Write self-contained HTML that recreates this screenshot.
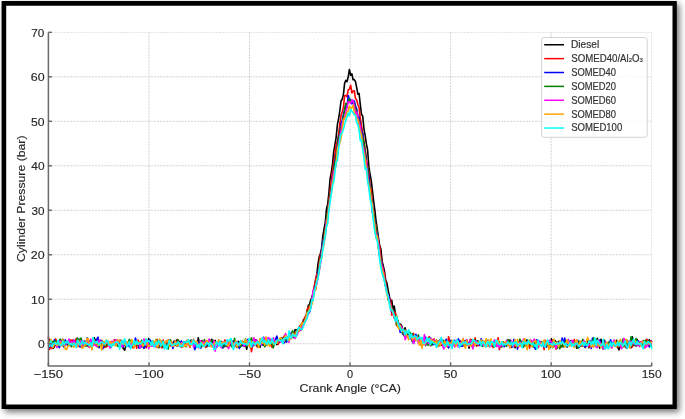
<!DOCTYPE html>
<html><head><meta charset="utf-8"><style>
html,body{margin:0;padding:0;background:#fff;width:685px;height:419px;overflow:hidden}
svg{display:block;font-family:"Liberation Sans",sans-serif}
</style></head><body>
<svg width="685" height="419" viewBox="0 0 685 419">
<defs><filter id="sh" x="-5%" y="-5%" width="110%" height="110%"><feGaussianBlur stdDeviation="3"/></filter><clipPath id="ax"><rect x="48.4" y="32.3" width="603.3" height="333.6"/></clipPath></defs>
<g id="nontext">
<rect x="4.5" y="4" width="675" height="408" fill="#000" opacity="0.55" filter="url(#sh)"/>
<rect x="3" y="3" width="672" height="404" fill="#fff"/>
<path d="M1.6,1.1 H676.8 V408.9 H1.6 Z M6.2,5.8 V404.4 H672.5 V5.8 Z" fill="#000" fill-rule="evenodd"/>
<g clip-path="url(#ax)" stroke="#b0b0b0" stroke-width="1.0" stroke-dasharray="2.1,1.0" opacity="0.55"><line x1="48.40" y1="32.32" x2="48.40" y2="366.00"/><line x1="148.95" y1="32.32" x2="148.95" y2="366.00"/><line x1="249.50" y1="32.32" x2="249.50" y2="366.00"/><line x1="350.05" y1="32.32" x2="350.05" y2="366.00"/><line x1="450.60" y1="32.32" x2="450.60" y2="366.00"/><line x1="551.15" y1="32.32" x2="551.15" y2="366.00"/><line x1="651.70" y1="32.32" x2="651.70" y2="366.00"/><line x1="48.40" y1="343.75" x2="651.70" y2="343.75"/><line x1="48.40" y1="299.26" x2="651.70" y2="299.26"/><line x1="48.40" y1="254.77" x2="651.70" y2="254.77"/><line x1="48.40" y1="210.28" x2="651.70" y2="210.28"/><line x1="48.40" y1="165.79" x2="651.70" y2="165.79"/><line x1="48.40" y1="121.30" x2="651.70" y2="121.30"/><line x1="48.40" y1="76.81" x2="651.70" y2="76.81"/><line x1="48.40" y1="32.32" x2="651.70" y2="32.32"/></g>
<g fill="none" stroke-width="1.6" stroke-linejoin="round" stroke-linecap="butt"><path d="M48.4,344.2 49.6,339.5 50.8,346.9 52.0,342.5 53.2,348.3 54.4,346.6 55.7,343.1 56.9,346.8 58.1,341.5 59.3,343.4 60.5,344.2 61.7,344.1 62.9,339.3 64.1,343.3 65.3,341.3 66.5,344.1 67.7,341.8 69.0,344.8 70.2,340.2 71.4,343.9 72.6,345.5 73.8,341.4 75.0,346.3 76.2,345.7 77.4,343.8 78.6,341.6 79.8,345.5 81.0,341.9 82.3,346.4 83.5,345.1 84.7,344.7 85.9,343.8 87.1,345.6 88.3,345.1 89.5,345.1 90.7,346.2 91.9,344.7 93.1,344.7 94.3,337.7 95.6,341.3 96.8,342.8 98.0,343.8 99.2,346.1 100.4,345.3 101.6,342.4 102.8,345.9 104.0,347.5 105.2,345.4 106.4,342.9 107.6,341.0 108.9,344.0 110.1,346.7 111.3,342.6 112.5,342.4 113.7,343.7 114.9,339.8 116.1,345.1 117.3,344.7 118.5,346.3 119.7,340.5 120.9,340.3 122.2,345.9 123.4,348.6 124.6,350.2 125.8,346.1 127.0,342.8 128.2,343.8 129.4,341.7 130.6,345.8 131.8,341.7 133.0,345.1 134.2,343.7 135.4,343.9 136.7,342.1 137.9,344.5 139.1,342.2 140.3,341.7 141.5,342.3 142.7,344.9 143.9,348.2 145.1,347.0 146.3,343.3 147.5,344.9 148.7,338.6 150.0,343.6 151.2,341.4 152.4,342.3 153.6,346.4 154.8,344.5 156.0,341.2 157.2,343.7 158.4,345.6 159.6,344.6 160.8,344.5 162.0,346.3 163.3,342.4 164.5,342.9 165.7,345.1 166.9,343.7 168.1,342.0 169.3,341.8 170.5,343.8 171.7,344.6 172.9,343.4 174.1,341.1 175.3,344.2 176.6,340.0 177.8,345.8 179.0,341.2 180.2,342.9 181.4,343.6 182.6,342.6 183.8,346.0 185.0,343.4 186.2,344.0 187.4,343.8 188.6,345.0 189.9,342.5 191.1,340.1 192.3,342.5 193.5,344.8 194.7,343.0 195.9,344.4 197.1,346.1 198.3,337.7 199.5,345.0 200.7,343.7 201.9,340.6 203.2,345.1 204.4,343.6 205.6,343.1 206.8,346.7 208.0,343.0 209.2,346.3 210.4,342.9 211.6,339.3 212.8,342.4 214.0,341.3 215.2,340.4 216.5,345.8 217.7,343.8 218.9,342.0 220.1,344.3 221.3,342.8 222.5,347.3 223.7,346.7 224.9,341.5 226.1,346.5 227.3,341.0 228.5,343.8 229.8,343.0 231.0,341.0 232.2,342.9 233.4,346.4 234.6,344.5 235.8,342.9 237.0,347.5 238.2,341.4 239.4,341.9 240.6,344.0 241.8,344.7 243.1,343.7 244.3,344.3 245.5,344.0 246.7,349.3 247.9,341.5 249.1,343.2 250.3,347.1 251.5,342.5 252.7,342.8 253.9,342.4 255.1,339.9 256.4,339.8 257.6,344.2 258.8,346.0 260.0,347.2 261.2,343.1 262.4,341.4 263.6,345.3 264.8,342.5 266.0,345.4 267.2,343.6 268.4,343.4 269.7,344.6 270.9,343.7 272.1,346.4 273.3,341.7 274.5,341.6 275.7,342.0 276.9,344.6 278.1,343.5 279.3,342.1 280.5,339.7 281.7,338.9 282.9,343.2 284.2,340.2 285.4,335.0 286.6,337.0 287.8,338.2 289.0,340.3 290.2,338.0 291.4,338.3 292.6,333.6 293.8,337.3 295.0,329.7 296.2,329.8 297.5,330.6 298.7,330.1 299.9,327.7 301.1,326.6 302.3,324.7 303.5,319.8 304.7,319.3 305.9,315.9 307.1,314.8 308.3,305.4 309.5,304.6 310.8,299.8 312.0,297.7 313.2,291.8 314.4,287.3 315.6,279.2 316.8,275.2 318.0,263.8 319.2,256.9 320.4,253.9 321.6,248.2 322.8,236.2 324.1,228.7 325.3,222.3 326.5,208.9 327.7,204.1 328.9,193.0 330.1,178.8 331.3,172.6 332.5,164.1 333.7,151.8 334.9,145.0 336.1,137.6 337.4,124.6 338.6,118.6 339.8,111.0 341.0,101.0 342.2,99.2 343.4,94.6 344.6,83.4 345.8,80.4 347.0,81.7 348.2,76.9 349.4,69.5 350.7,75.3 351.9,73.8 353.1,79.8 354.3,79.6 355.5,81.6 356.7,87.7 357.9,94.3 359.1,93.5 360.3,104.6 361.5,114.3 362.7,116.1 364.0,129.3 365.2,135.7 366.4,143.8 367.6,149.8 368.8,166.1 370.0,174.0 371.2,180.3 372.4,190.3 373.6,201.0 374.8,209.6 376.0,220.5 377.3,229.3 378.5,238.2 379.7,245.9 380.9,249.1 382.1,261.1 383.3,265.9 384.5,271.4 385.7,280.3 386.9,282.9 388.1,289.8 389.3,295.8 390.6,304.1 391.8,300.3 393.0,309.9 394.2,306.1 395.4,313.8 396.6,316.1 397.8,321.1 399.0,324.2 400.2,324.1 401.4,325.2 402.6,328.6 403.9,331.8 405.1,327.7 406.3,332.0 407.5,334.0 408.7,336.2 409.9,334.3 411.1,335.8 412.3,341.5 413.5,335.1 414.7,338.5 415.9,338.9 417.2,339.6 418.4,339.4 419.6,339.2 420.8,342.1 422.0,339.8 423.2,340.2 424.4,341.2 425.6,341.2 426.8,343.1 428.0,341.4 429.2,342.3 430.4,344.1 431.7,340.4 432.9,343.3 434.1,341.7 435.3,343.7 436.5,344.0 437.7,342.0 438.9,345.9 440.1,339.7 441.3,345.1 442.5,345.4 443.7,343.8 445.0,343.1 446.2,342.7 447.4,343.9 448.6,347.6 449.8,342.9 451.0,345.4 452.2,343.9 453.4,342.9 454.6,342.8 455.8,342.0 457.0,342.2 458.3,344.6 459.5,346.5 460.7,343.3 461.9,344.0 463.1,341.3 464.3,341.3 465.5,340.8 466.7,344.6 467.9,342.4 469.1,348.1 470.3,340.4 471.6,341.8 472.8,345.9 474.0,344.1 475.2,342.6 476.4,344.6 477.6,345.5 478.8,341.5 480.0,344.2 481.2,341.5 482.4,345.5 483.6,345.4 484.9,345.3 486.1,344.8 487.3,342.0 488.5,345.3 489.7,344.4 490.9,344.5 492.1,342.2 493.3,344.9 494.5,342.3 495.7,341.7 496.9,340.9 498.2,341.1 499.4,343.4 500.6,346.4 501.8,343.1 503.0,344.2 504.2,342.8 505.4,344.2 506.6,341.3 507.8,340.0 509.0,340.5 510.2,340.1 511.5,347.1 512.7,343.2 513.9,342.6 515.1,347.8 516.3,343.9 517.5,341.5 518.7,345.0 519.9,343.6 521.1,345.8 522.3,344.9 523.5,341.0 524.8,344.3 526.0,340.2 527.2,340.0 528.4,343.0 529.6,342.4 530.8,340.7 532.0,342.1 533.2,341.9 534.4,345.2 535.6,346.0 536.8,345.4 538.1,346.5 539.3,344.3 540.5,344.4 541.7,342.1 542.9,344.7 544.1,341.8 545.3,343.4 546.5,345.2 547.7,344.0 548.9,346.5 550.1,347.5 551.4,338.7 552.6,343.3 553.8,344.0 555.0,340.4 556.2,342.7 557.4,342.8 558.6,341.4 559.8,344.5 561.0,342.6 562.2,345.3 563.4,346.7 564.7,343.6 565.9,340.6 567.1,347.1 568.3,344.4 569.5,345.2 570.7,340.7 571.9,343.9 573.1,344.3 574.3,342.8 575.5,343.4 576.7,348.1 577.9,344.3 579.2,342.4 580.4,343.1 581.6,342.1 582.8,346.2 584.0,342.5 585.2,347.5 586.4,345.8 587.6,340.5 588.8,347.8 590.0,342.5 591.2,345.4 592.5,342.3 593.7,343.4 594.9,340.9 596.1,346.6 597.3,338.3 598.5,342.6 599.7,348.2 600.9,339.2 602.1,341.8 603.3,349.0 604.5,340.3 605.8,345.2 607.0,342.5 608.2,344.5 609.4,342.5 610.6,343.3 611.8,346.8 613.0,342.7 614.2,341.6 615.4,346.2 616.6,340.3 617.8,347.6 619.1,349.9 620.3,344.9 621.5,342.6 622.7,343.3 623.9,341.9 625.1,342.4 626.3,348.0 627.5,346.5 628.7,344.6 629.9,347.4 631.1,347.6 632.4,336.8 633.6,345.4 634.8,343.4 636.0,346.0 637.2,339.6 638.4,345.4 639.6,343.6 640.8,342.8 642.0,344.6 643.2,343.0 644.4,347.0 645.7,342.1 646.9,343.9 648.1,342.4 649.3,339.7 650.5,345.0 651.7,341.0" stroke="#000000" /><path d="M48.4,336.5 49.6,349.5 50.8,345.0 52.0,348.6 53.2,344.6 54.4,341.6 55.7,338.9 56.9,342.7 58.1,344.8 59.3,340.8 60.5,341.6 61.7,342.0 62.9,342.2 64.1,342.8 65.3,344.8 66.5,343.7 67.7,343.7 69.0,344.2 70.2,340.3 71.4,340.4 72.6,340.0 73.8,344.9 75.0,342.8 76.2,338.5 77.4,346.7 78.6,345.7 79.8,345.3 81.0,344.0 82.3,340.2 83.5,341.7 84.7,343.1 85.9,341.8 87.1,344.5 88.3,346.6 89.5,344.7 90.7,342.0 91.9,343.4 93.1,343.6 94.3,342.4 95.6,342.7 96.8,344.8 98.0,346.5 99.2,344.4 100.4,341.6 101.6,340.3 102.8,348.1 104.0,347.2 105.2,346.7 106.4,346.9 107.6,345.6 108.9,342.5 110.1,343.1 111.3,345.9 112.5,342.8 113.7,340.5 114.9,340.0 116.1,341.6 117.3,340.1 118.5,345.6 119.7,342.2 120.9,342.2 122.2,342.5 123.4,342.2 124.6,343.1 125.8,341.8 127.0,346.1 128.2,345.0 129.4,341.4 130.6,342.3 131.8,343.1 133.0,347.9 134.2,345.3 135.4,342.5 136.7,348.2 137.9,340.1 139.1,342.9 140.3,342.0 141.5,342.7 142.7,342.1 143.9,344.9 145.1,339.6 146.3,347.6 147.5,342.8 148.7,343.5 150.0,345.9 151.2,342.5 152.4,342.8 153.6,341.7 154.8,344.0 156.0,343.3 157.2,339.4 158.4,344.8 159.6,347.5 160.8,344.3 162.0,347.9 163.3,339.8 164.5,348.1 165.7,345.0 166.9,344.5 168.1,340.0 169.3,340.1 170.5,346.0 171.7,342.2 172.9,345.5 174.1,344.1 175.3,343.5 176.6,342.7 177.8,339.4 179.0,342.7 180.2,342.8 181.4,347.4 182.6,344.1 183.8,345.1 185.0,341.8 186.2,341.6 187.4,342.9 188.6,343.9 189.9,347.2 191.1,343.5 192.3,344.1 193.5,339.4 194.7,342.7 195.9,344.3 197.1,346.8 198.3,343.2 199.5,343.2 200.7,344.2 201.9,346.7 203.2,342.7 204.4,345.1 205.6,347.5 206.8,343.1 208.0,341.7 209.2,343.1 210.4,340.9 211.6,343.5 212.8,345.7 214.0,345.5 215.2,344.0 216.5,346.5 217.7,344.7 218.9,342.7 220.1,343.5 221.3,343.6 222.5,344.6 223.7,343.2 224.9,339.9 226.1,344.3 227.3,345.8 228.5,348.1 229.8,341.3 231.0,345.9 232.2,341.8 233.4,342.7 234.6,347.0 235.8,343.4 237.0,342.8 238.2,343.6 239.4,346.4 240.6,341.6 241.8,340.9 243.1,343.7 244.3,346.4 245.5,343.8 246.7,344.0 247.9,343.1 249.1,345.6 250.3,343.3 251.5,351.7 252.7,344.7 253.9,345.2 255.1,341.5 256.4,346.0 257.6,346.8 258.8,343.2 260.0,341.6 261.2,342.9 262.4,340.8 263.6,341.4 264.8,345.0 266.0,343.7 267.2,343.3 268.4,341.8 269.7,339.7 270.9,344.8 272.1,347.4 273.3,342.1 274.5,343.2 275.7,340.7 276.9,338.7 278.1,344.4 279.3,340.5 280.5,340.6 281.7,338.1 282.9,339.2 284.2,335.9 285.4,341.6 286.6,340.0 287.8,338.6 289.0,340.1 290.2,337.5 291.4,337.8 292.6,336.4 293.8,336.2 295.0,332.5 296.2,335.2 297.5,332.9 298.7,327.6 299.9,325.8 301.1,330.0 302.3,322.6 303.5,323.4 304.7,317.0 305.9,319.2 307.1,309.4 308.3,307.5 309.5,306.2 310.8,305.0 312.0,297.6 313.2,297.6 314.4,285.6 315.6,280.7 316.8,273.8 318.0,274.7 319.2,264.0 320.4,254.7 321.6,250.8 322.8,242.8 324.1,235.4 325.3,229.2 326.5,219.3 327.7,212.7 328.9,199.5 330.1,191.4 331.3,180.9 332.5,171.2 333.7,162.3 334.9,154.2 336.1,144.1 337.4,141.4 338.6,133.8 339.8,124.1 341.0,115.3 342.2,111.9 343.4,107.5 344.6,95.8 345.8,95.4 347.0,96.7 348.2,90.0 349.4,89.2 350.7,85.3 351.9,93.0 353.1,91.0 354.3,90.9 355.5,98.4 356.7,100.0 357.9,104.5 359.1,107.5 360.3,118.5 361.5,126.0 362.7,133.1 364.0,141.1 365.2,149.2 366.4,159.2 367.6,166.3 368.8,171.9 370.0,186.1 371.2,190.1 372.4,205.0 373.6,211.5 374.8,221.1 376.0,225.7 377.3,234.7 378.5,242.6 379.7,246.9 380.9,257.9 382.1,263.4 383.3,270.1 384.5,275.0 385.7,282.7 386.9,291.6 388.1,295.6 389.3,298.2 390.6,299.4 391.8,315.2 393.0,309.9 394.2,313.5 395.4,312.9 396.6,325.6 397.8,323.8 399.0,324.7 400.2,325.8 401.4,327.4 402.6,331.0 403.9,333.3 405.1,333.1 406.3,334.3 407.5,335.4 408.7,332.2 409.9,335.9 411.1,337.4 412.3,338.2 413.5,333.4 414.7,341.3 415.9,337.9 417.2,339.2 418.4,337.2 419.6,337.7 420.8,339.5 422.0,342.3 423.2,339.6 424.4,339.6 425.6,342.0 426.8,342.7 428.0,339.8 429.2,336.6 430.4,345.8 431.7,339.3 432.9,341.0 434.1,338.9 435.3,343.6 436.5,343.9 437.7,343.8 438.9,340.6 440.1,345.4 441.3,343.3 442.5,345.5 443.7,343.3 445.0,343.4 446.2,342.3 447.4,346.9 448.6,336.7 449.8,341.3 451.0,340.6 452.2,342.4 453.4,341.6 454.6,344.2 455.8,342.7 457.0,343.5 458.3,340.9 459.5,344.1 460.7,340.9 461.9,346.2 463.1,344.6 464.3,344.4 465.5,342.0 466.7,341.4 467.9,344.0 469.1,346.0 470.3,339.3 471.6,339.8 472.8,345.2 474.0,343.8 475.2,337.8 476.4,346.1 477.6,341.9 478.8,345.4 480.0,342.2 481.2,342.6 482.4,343.4 483.6,343.4 484.9,342.5 486.1,344.2 487.3,345.9 488.5,345.2 489.7,346.9 490.9,344.6 492.1,345.9 493.3,347.5 494.5,342.7 495.7,344.1 496.9,342.8 498.2,337.8 499.4,349.6 500.6,345.0 501.8,344.8 503.0,344.8 504.2,345.1 505.4,343.4 506.6,342.9 507.8,342.3 509.0,344.7 510.2,341.1 511.5,341.6 512.7,344.5 513.9,343.6 515.1,346.4 516.3,342.7 517.5,343.7 518.7,341.6 519.9,343.5 521.1,345.3 522.3,345.5 523.5,343.8 524.8,345.7 526.0,342.2 527.2,342.0 528.4,343.4 529.6,348.1 530.8,342.2 532.0,343.6 533.2,344.6 534.4,344.3 535.6,341.1 536.8,345.7 538.1,347.7 539.3,344.4 540.5,342.9 541.7,342.1 542.9,343.0 544.1,349.7 545.3,340.4 546.5,346.6 547.7,342.6 548.9,345.1 550.1,342.0 551.4,344.7 552.6,340.4 553.8,345.5 555.0,346.1 556.2,349.2 557.4,343.0 558.6,344.3 559.8,341.8 561.0,347.3 562.2,344.3 563.4,345.3 564.7,345.8 565.9,340.4 567.1,343.4 568.3,341.6 569.5,343.7 570.7,342.8 571.9,345.5 573.1,342.3 574.3,339.6 575.5,344.1 576.7,346.0 577.9,342.1 579.2,345.0 580.4,344.4 581.6,346.0 582.8,343.6 584.0,342.1 585.2,341.9 586.4,344.9 587.6,343.0 588.8,347.1 590.0,345.0 591.2,346.0 592.5,345.4 593.7,343.6 594.9,340.8 596.1,344.4 597.3,341.1 598.5,341.2 599.7,345.9 600.9,344.8 602.1,346.9 603.3,345.3 604.5,344.8 605.8,344.3 607.0,346.6 608.2,344.4 609.4,344.7 610.6,343.1 611.8,347.9 613.0,345.0 614.2,342.0 615.4,341.8 616.6,344.6 617.8,346.5 619.1,346.6 620.3,342.0 621.5,346.6 622.7,346.7 623.9,346.8 625.1,339.9 626.3,346.1 627.5,341.4 628.7,346.5 629.9,344.2 631.1,342.2 632.4,347.0 633.6,343.9 634.8,345.3 636.0,342.5 637.2,342.2 638.4,344.1 639.6,344.2 640.8,341.8 642.0,343.9 643.2,344.5 644.4,347.8 645.7,341.0 646.9,339.2 648.1,345.7 649.3,341.3 650.5,341.1 651.7,340.6" stroke="#ff0000" /><path d="M48.4,347.8 49.6,346.6 50.8,344.5 52.0,345.0 53.2,346.2 54.4,339.8 55.7,342.7 56.9,343.9 58.1,343.8 59.3,347.8 60.5,344.0 61.7,345.0 62.9,344.6 64.1,347.3 65.3,339.8 66.5,342.7 67.7,346.0 69.0,342.5 70.2,342.0 71.4,345.7 72.6,344.5 73.8,340.0 75.0,342.8 76.2,344.6 77.4,343.2 78.6,339.2 79.8,346.8 81.0,346.9 82.3,346.2 83.5,343.3 84.7,341.3 85.9,343.8 87.1,337.9 88.3,346.2 89.5,340.9 90.7,341.0 91.9,340.6 93.1,342.3 94.3,342.5 95.6,342.5 96.8,339.2 98.0,337.1 99.2,347.8 100.4,340.4 101.6,344.9 102.8,348.7 104.0,345.0 105.2,342.7 106.4,343.6 107.6,341.8 108.9,344.1 110.1,343.4 111.3,344.0 112.5,341.7 113.7,344.2 114.9,342.4 116.1,341.6 117.3,341.8 118.5,343.3 119.7,343.8 120.9,343.5 122.2,346.3 123.4,346.2 124.6,345.1 125.8,343.7 127.0,346.1 128.2,344.6 129.4,346.8 130.6,345.4 131.8,346.1 133.0,345.0 134.2,344.3 135.4,338.1 136.7,342.3 137.9,343.5 139.1,348.3 140.3,344.4 141.5,346.8 142.7,345.8 143.9,348.0 145.1,346.7 146.3,340.8 147.5,340.3 148.7,345.3 150.0,339.8 151.2,343.4 152.4,343.1 153.6,343.9 154.8,342.6 156.0,342.2 157.2,345.1 158.4,346.3 159.6,345.1 160.8,341.2 162.0,342.1 163.3,343.3 164.5,342.6 165.7,345.1 166.9,347.4 168.1,344.5 169.3,341.5 170.5,344.6 171.7,342.5 172.9,348.5 174.1,342.5 175.3,341.3 176.6,345.1 177.8,345.7 179.0,342.5 180.2,343.1 181.4,340.9 182.6,346.1 183.8,343.0 185.0,345.8 186.2,344.8 187.4,340.4 188.6,340.6 189.9,345.5 191.1,340.5 192.3,341.8 193.5,344.2 194.7,349.7 195.9,347.2 197.1,341.5 198.3,342.1 199.5,343.8 200.7,348.1 201.9,343.0 203.2,343.2 204.4,342.9 205.6,344.5 206.8,345.1 208.0,343.0 209.2,343.4 210.4,343.3 211.6,344.6 212.8,346.8 214.0,342.5 215.2,344.8 216.5,347.4 217.7,343.4 218.9,342.2 220.1,345.6 221.3,342.4 222.5,348.0 223.7,347.1 224.9,343.7 226.1,341.4 227.3,341.3 228.5,340.9 229.8,343.5 231.0,344.6 232.2,342.6 233.4,340.6 234.6,342.7 235.8,344.8 237.0,344.4 238.2,344.7 239.4,348.5 240.6,346.1 241.8,345.6 243.1,345.7 244.3,342.4 245.5,345.8 246.7,345.8 247.9,339.3 249.1,343.3 250.3,343.6 251.5,339.8 252.7,346.3 253.9,340.8 255.1,344.5 256.4,340.3 257.6,344.2 258.8,344.0 260.0,343.2 261.2,342.1 262.4,345.0 263.6,337.2 264.8,341.0 266.0,340.4 267.2,340.3 268.4,343.5 269.7,340.1 270.9,339.4 272.1,339.7 273.3,341.7 274.5,343.4 275.7,338.8 276.9,336.2 278.1,341.9 279.3,340.1 280.5,340.0 281.7,337.6 282.9,340.7 284.2,342.8 285.4,338.2 286.6,342.3 287.8,338.5 289.0,338.6 290.2,336.6 291.4,332.2 292.6,336.8 293.8,337.7 295.0,337.3 296.2,336.5 297.5,329.4 298.7,329.6 299.9,330.6 301.1,324.4 302.3,325.5 303.5,325.4 304.7,322.3 305.9,316.5 307.1,314.4 308.3,313.9 309.5,312.2 310.8,307.4 312.0,298.0 313.2,294.2 314.4,291.0 315.6,285.2 316.8,279.9 318.0,272.3 319.2,268.5 320.4,261.8 321.6,249.8 322.8,242.2 324.1,238.0 325.3,230.3 326.5,221.0 327.7,213.3 328.9,204.6 330.1,196.7 331.3,190.3 332.5,178.2 333.7,170.5 334.9,160.5 336.1,155.6 337.4,145.9 338.6,136.7 339.8,133.7 341.0,123.3 342.2,120.7 343.4,114.4 344.6,109.8 345.8,104.7 347.0,107.4 348.2,95.5 349.4,99.3 350.7,99.5 351.9,103.9 353.1,100.6 354.3,101.0 355.5,105.8 356.7,108.8 357.9,116.4 359.1,117.3 360.3,126.5 361.5,131.1 362.7,133.3 364.0,148.3 365.2,152.2 366.4,162.2 367.6,169.0 368.8,176.0 370.0,189.9 371.2,198.2 372.4,202.4 373.6,214.7 374.8,219.5 376.0,231.2 377.3,233.8 378.5,245.1 379.7,256.7 380.9,260.0 382.1,264.8 383.3,274.4 384.5,278.0 385.7,286.0 386.9,289.2 388.1,296.0 389.3,297.4 390.6,308.5 391.8,312.3 393.0,312.9 394.2,315.0 395.4,316.4 396.6,321.6 397.8,323.2 399.0,324.0 400.2,332.4 401.4,326.3 402.6,334.1 403.9,333.6 405.1,333.5 406.3,333.8 407.5,336.5 408.7,334.6 409.9,338.7 411.1,338.5 412.3,338.6 413.5,343.3 414.7,338.1 415.9,334.3 417.2,340.2 418.4,341.8 419.6,337.5 420.8,340.8 422.0,344.1 423.2,341.3 424.4,340.4 425.6,337.0 426.8,340.8 428.0,342.5 429.2,342.6 430.4,337.8 431.7,341.2 432.9,344.8 434.1,343.2 435.3,344.8 436.5,342.6 437.7,342.7 438.9,341.8 440.1,342.1 441.3,342.0 442.5,344.2 443.7,341.0 445.0,342.3 446.2,339.2 447.4,343.1 448.6,347.8 449.8,342.6 451.0,340.4 452.2,342.5 453.4,344.8 454.6,340.3 455.8,345.7 457.0,341.4 458.3,338.9 459.5,340.6 460.7,345.5 461.9,346.3 463.1,345.9 464.3,341.8 465.5,343.9 466.7,339.5 467.9,344.7 469.1,342.2 470.3,342.9 471.6,344.0 472.8,341.1 474.0,340.6 475.2,344.3 476.4,345.0 477.6,341.3 478.8,341.5 480.0,345.4 481.2,338.7 482.4,342.3 483.6,344.7 484.9,341.8 486.1,346.5 487.3,340.3 488.5,341.9 489.7,342.7 490.9,342.4 492.1,343.7 493.3,343.6 494.5,343.2 495.7,342.8 496.9,341.3 498.2,341.3 499.4,344.7 500.6,344.0 501.8,346.0 503.0,341.9 504.2,346.7 505.4,343.2 506.6,344.2 507.8,343.3 509.0,343.7 510.2,340.7 511.5,343.6 512.7,347.1 513.9,339.4 515.1,343.9 516.3,342.3 517.5,349.2 518.7,341.7 519.9,345.1 521.1,341.1 522.3,345.8 523.5,344.1 524.8,344.2 526.0,344.8 527.2,342.1 528.4,343.3 529.6,344.0 530.8,344.0 532.0,343.6 533.2,343.4 534.4,347.3 535.6,349.2 536.8,339.7 538.1,342.2 539.3,343.9 540.5,342.3 541.7,341.9 542.9,342.9 544.1,346.9 545.3,342.1 546.5,347.0 547.7,345.4 548.9,343.0 550.1,343.1 551.4,341.2 552.6,346.5 553.8,344.9 555.0,345.1 556.2,342.2 557.4,344.4 558.6,342.4 559.8,342.4 561.0,343.2 562.2,338.0 563.4,344.6 564.7,338.0 565.9,346.0 567.1,344.6 568.3,339.6 569.5,344.9 570.7,344.1 571.9,341.0 573.1,342.0 574.3,344.7 575.5,342.2 576.7,344.2 577.9,340.3 579.2,347.5 580.4,341.5 581.6,345.1 582.8,344.6 584.0,344.3 585.2,347.0 586.4,345.5 587.6,344.6 588.8,345.2 590.0,340.5 591.2,348.4 592.5,338.1 593.7,340.4 594.9,341.2 596.1,342.7 597.3,345.7 598.5,345.4 599.7,340.1 600.9,347.0 602.1,343.9 603.3,343.3 604.5,346.6 605.8,344.7 607.0,345.4 608.2,343.3 609.4,342.7 610.6,339.8 611.8,345.0 613.0,343.9 614.2,343.2 615.4,343.2 616.6,345.0 617.8,345.4 619.1,342.3 620.3,344.4 621.5,345.7 622.7,346.7 623.9,345.5 625.1,344.8 626.3,345.6 627.5,340.5 628.7,343.3 629.9,341.7 631.1,343.9 632.4,340.6 633.6,340.7 634.8,342.8 636.0,345.2 637.2,343.2 638.4,341.0 639.6,343.1 640.8,344.9 642.0,343.8 643.2,342.3 644.4,343.9 645.7,343.5 646.9,342.7 648.1,341.6 649.3,346.9 650.5,342.9 651.7,340.7" stroke="#0000ff" /><path d="M48.4,343.3 49.6,345.0 50.8,344.2 52.0,344.2 53.2,341.0 54.4,343.3 55.7,340.9 56.9,345.0 58.1,341.9 59.3,340.2 60.5,339.2 61.7,341.6 62.9,342.3 64.1,342.6 65.3,341.4 66.5,343.9 67.7,343.8 69.0,345.5 70.2,343.1 71.4,346.7 72.6,345.0 73.8,341.1 75.0,343.9 76.2,344.6 77.4,337.9 78.6,342.6 79.8,339.3 81.0,338.0 82.3,345.3 83.5,343.8 84.7,341.1 85.9,346.2 87.1,343.0 88.3,341.5 89.5,347.1 90.7,341.6 91.9,345.6 93.1,343.8 94.3,340.5 95.6,344.4 96.8,342.4 98.0,347.1 99.2,341.1 100.4,346.0 101.6,342.0 102.8,341.3 104.0,344.7 105.2,346.0 106.4,345.1 107.6,342.0 108.9,345.7 110.1,341.9 111.3,347.4 112.5,343.2 113.7,342.6 114.9,344.7 116.1,341.8 117.3,346.0 118.5,344.1 119.7,346.9 120.9,344.5 122.2,343.1 123.4,344.7 124.6,341.3 125.8,344.8 127.0,345.6 128.2,342.4 129.4,339.4 130.6,341.2 131.8,345.7 133.0,343.7 134.2,342.1 135.4,344.3 136.7,344.6 137.9,344.1 139.1,346.5 140.3,343.9 141.5,340.3 142.7,342.4 143.9,345.9 145.1,340.9 146.3,342.5 147.5,344.5 148.7,347.2 150.0,342.9 151.2,342.5 152.4,343.8 153.6,344.7 154.8,344.9 156.0,339.6 157.2,342.6 158.4,347.6 159.6,341.1 160.8,343.9 162.0,341.3 163.3,347.3 164.5,343.2 165.7,342.7 166.9,345.7 168.1,349.0 169.3,341.7 170.5,339.8 171.7,344.4 172.9,344.8 174.1,343.3 175.3,345.0 176.6,345.9 177.8,339.7 179.0,344.0 180.2,344.8 181.4,345.5 182.6,345.2 183.8,341.6 185.0,342.2 186.2,346.8 187.4,341.8 188.6,340.3 189.9,345.8 191.1,340.5 192.3,341.7 193.5,344.4 194.7,345.0 195.9,342.2 197.1,343.3 198.3,345.9 199.5,344.8 200.7,346.9 201.9,345.9 203.2,344.4 204.4,339.6 205.6,342.1 206.8,345.0 208.0,342.6 209.2,339.7 210.4,345.4 211.6,340.9 212.8,339.8 214.0,343.2 215.2,346.9 216.5,345.2 217.7,343.2 218.9,343.4 220.1,341.8 221.3,341.3 222.5,347.1 223.7,346.0 224.9,344.6 226.1,343.7 227.3,342.1 228.5,343.6 229.8,342.8 231.0,344.3 232.2,347.1 233.4,345.5 234.6,338.4 235.8,343.6 237.0,343.0 238.2,347.0 239.4,342.7 240.6,346.7 241.8,344.0 243.1,341.6 244.3,344.3 245.5,339.0 246.7,346.4 247.9,344.9 249.1,342.7 250.3,342.3 251.5,337.7 252.7,344.8 253.9,338.8 255.1,342.6 256.4,341.0 257.6,346.5 258.8,341.7 260.0,345.2 261.2,341.2 262.4,343.0 263.6,344.1 264.8,346.8 266.0,338.7 267.2,343.5 268.4,341.3 269.7,339.4 270.9,344.4 272.1,340.8 273.3,347.8 274.5,342.7 275.7,341.4 276.9,341.0 278.1,340.7 279.3,339.6 280.5,340.6 281.7,338.0 282.9,340.3 284.2,339.2 285.4,340.8 286.6,338.2 287.8,337.5 289.0,338.3 290.2,335.8 291.4,335.1 292.6,330.8 293.8,334.7 295.0,334.9 296.2,332.4 297.5,329.6 298.7,331.1 299.9,329.1 301.1,324.9 302.3,327.2 303.5,324.4 304.7,320.1 305.9,317.8 307.1,311.3 308.3,312.6 309.5,309.3 310.8,303.4 312.0,299.2 313.2,293.7 314.4,291.3 315.6,288.7 316.8,282.2 318.0,274.9 319.2,269.9 320.4,260.6 321.6,253.2 322.8,244.5 324.1,238.1 325.3,231.3 326.5,220.2 327.7,212.4 328.9,202.7 330.1,195.5 331.3,188.6 332.5,177.8 333.7,170.4 334.9,163.2 336.1,157.1 337.4,147.2 338.6,136.6 339.8,134.1 341.0,125.2 342.2,126.3 343.4,116.3 344.6,111.1 345.8,103.3 347.0,104.7 348.2,102.1 349.4,98.6 350.7,102.1 351.9,100.5 353.1,101.7 354.3,103.1 355.5,108.3 356.7,111.8 357.9,116.8 359.1,120.8 360.3,130.4 361.5,132.9 362.7,138.3 364.0,143.5 365.2,151.8 366.4,165.5 367.6,166.8 368.8,183.2 370.0,188.0 371.2,196.5 372.4,212.0 373.6,213.4 374.8,222.4 376.0,227.1 377.3,236.1 378.5,248.3 379.7,254.1 380.9,262.8 382.1,267.5 383.3,276.5 384.5,280.0 385.7,286.4 386.9,290.0 388.1,299.8 389.3,300.3 390.6,307.6 391.8,306.8 393.0,311.9 394.2,317.4 395.4,316.2 396.6,325.0 397.8,321.5 399.0,325.5 400.2,326.0 401.4,330.5 402.6,332.6 403.9,335.6 405.1,336.2 406.3,334.2 407.5,337.2 408.7,332.1 409.9,332.4 411.1,335.3 412.3,333.6 413.5,340.3 414.7,337.9 415.9,336.5 417.2,338.0 418.4,334.9 419.6,340.1 420.8,344.8 422.0,339.8 423.2,341.3 424.4,340.8 425.6,345.7 426.8,341.4 428.0,345.3 429.2,338.6 430.4,338.7 431.7,345.4 432.9,340.9 434.1,340.8 435.3,341.7 436.5,340.0 437.7,344.3 438.9,344.4 440.1,343.2 441.3,338.3 442.5,342.0 443.7,340.4 445.0,342.8 446.2,344.1 447.4,344.3 448.6,345.1 449.8,342.5 451.0,342.8 452.2,342.2 453.4,343.1 454.6,343.4 455.8,343.9 457.0,343.1 458.3,341.5 459.5,343.5 460.7,345.4 461.9,342.0 463.1,340.3 464.3,344.5 465.5,342.3 466.7,344.3 467.9,344.6 469.1,344.8 470.3,342.9 471.6,346.3 472.8,342.9 474.0,345.8 475.2,339.8 476.4,342.4 477.6,340.7 478.8,342.3 480.0,342.8 481.2,344.8 482.4,346.4 483.6,344.4 484.9,342.7 486.1,345.4 487.3,344.1 488.5,341.3 489.7,342.8 490.9,343.3 492.1,345.7 493.3,344.3 494.5,346.9 495.7,344.8 496.9,340.7 498.2,345.2 499.4,341.8 500.6,345.5 501.8,347.1 503.0,341.9 504.2,343.1 505.4,345.4 506.6,346.3 507.8,339.6 509.0,342.0 510.2,341.1 511.5,343.1 512.7,345.4 513.9,343.9 515.1,343.4 516.3,342.4 517.5,346.8 518.7,342.6 519.9,339.1 521.1,343.7 522.3,342.5 523.5,347.3 524.8,342.0 526.0,345.7 527.2,343.5 528.4,341.3 529.6,344.3 530.8,344.7 532.0,342.4 533.2,347.0 534.4,342.5 535.6,345.0 536.8,341.4 538.1,343.4 539.3,344.4 540.5,344.4 541.7,341.5 542.9,344.5 544.1,344.3 545.3,346.2 546.5,345.4 547.7,342.5 548.9,343.3 550.1,345.3 551.4,344.1 552.6,347.7 553.8,342.0 555.0,345.3 556.2,342.4 557.4,348.2 558.6,345.8 559.8,348.8 561.0,342.7 562.2,346.9 563.4,344.0 564.7,343.9 565.9,340.9 567.1,343.6 568.3,342.2 569.5,342.4 570.7,344.6 571.9,341.1 573.1,345.3 574.3,342.2 575.5,343.5 576.7,344.7 577.9,348.3 579.2,341.4 580.4,346.2 581.6,342.5 582.8,339.2 584.0,343.3 585.2,342.0 586.4,345.1 587.6,344.9 588.8,343.5 590.0,341.5 591.2,342.4 592.5,342.5 593.7,337.9 594.9,342.1 596.1,343.8 597.3,339.7 598.5,343.1 599.7,344.2 600.9,345.0 602.1,344.4 603.3,344.7 604.5,346.8 605.8,344.8 607.0,345.0 608.2,342.3 609.4,342.4 610.6,343.8 611.8,343.9 613.0,343.1 614.2,343.9 615.4,343.0 616.6,343.0 617.8,343.1 619.1,341.2 620.3,342.0 621.5,348.2 622.7,339.3 623.9,345.7 625.1,345.1 626.3,342.0 627.5,345.5 628.7,345.6 629.9,344.1 631.1,336.7 632.4,340.4 633.6,345.2 634.8,343.1 636.0,338.6 637.2,345.7 638.4,343.3 639.6,343.6 640.8,344.3 642.0,346.2 643.2,340.5 644.4,341.4 645.7,340.3 646.9,343.3 648.1,345.3 649.3,341.3 650.5,342.7 651.7,347.1" stroke="#008000" /><path d="M48.4,341.3 49.6,346.0 50.8,344.1 52.0,343.6 53.2,344.2 54.4,344.6 55.7,343.5 56.9,347.5 58.1,342.8 59.3,341.3 60.5,340.6 61.7,344.9 62.9,341.6 64.1,343.7 65.3,344.0 66.5,343.8 67.7,342.0 69.0,339.1 70.2,342.7 71.4,341.8 72.6,343.0 73.8,340.6 75.0,342.2 76.2,343.3 77.4,345.2 78.6,342.0 79.8,343.6 81.0,340.9 82.3,345.7 83.5,341.5 84.7,342.8 85.9,341.8 87.1,343.7 88.3,340.9 89.5,347.5 90.7,339.1 91.9,341.4 93.1,345.4 94.3,344.5 95.6,345.5 96.8,346.4 98.0,345.2 99.2,340.1 100.4,342.3 101.6,341.3 102.8,344.5 104.0,344.0 105.2,342.8 106.4,343.3 107.6,341.6 108.9,345.2 110.1,348.1 111.3,341.2 112.5,344.0 113.7,340.2 114.9,344.3 116.1,339.8 117.3,343.9 118.5,340.5 119.7,340.4 120.9,343.5 122.2,346.8 123.4,344.0 124.6,340.6 125.8,342.5 127.0,345.1 128.2,342.9 129.4,344.4 130.6,345.0 131.8,343.7 133.0,342.7 134.2,341.7 135.4,341.6 136.7,342.1 137.9,342.6 139.1,344.3 140.3,347.9 141.5,342.9 142.7,342.3 143.9,339.0 145.1,344.4 146.3,345.1 147.5,340.3 148.7,348.6 150.0,345.2 151.2,346.2 152.4,346.3 153.6,341.2 154.8,345.7 156.0,347.3 157.2,346.4 158.4,345.3 159.6,343.8 160.8,342.5 162.0,343.5 163.3,343.9 164.5,345.8 165.7,341.7 166.9,340.7 168.1,340.7 169.3,342.7 170.5,344.4 171.7,342.9 172.9,346.1 174.1,345.9 175.3,341.6 176.6,344.7 177.8,345.4 179.0,343.5 180.2,345.6 181.4,343.0 182.6,342.7 183.8,344.9 185.0,344.4 186.2,343.9 187.4,343.8 188.6,344.9 189.9,342.0 191.1,343.7 192.3,340.7 193.5,347.0 194.7,344.5 195.9,341.5 197.1,341.5 198.3,347.6 199.5,347.4 200.7,340.9 201.9,343.1 203.2,342.1 204.4,344.1 205.6,340.7 206.8,342.2 208.0,344.3 209.2,339.0 210.4,345.9 211.6,345.3 212.8,346.1 214.0,340.5 215.2,351.1 216.5,342.1 217.7,346.1 218.9,341.2 220.1,345.4 221.3,347.5 222.5,342.1 223.7,343.4 224.9,343.3 226.1,341.5 227.3,341.4 228.5,348.6 229.8,342.4 231.0,343.4 232.2,343.0 233.4,345.0 234.6,342.3 235.8,341.7 237.0,341.9 238.2,344.6 239.4,345.4 240.6,343.3 241.8,342.1 243.1,343.1 244.3,345.9 245.5,343.6 246.7,343.8 247.9,340.4 249.1,342.6 250.3,345.1 251.5,345.4 252.7,345.4 253.9,337.7 255.1,341.4 256.4,340.0 257.6,344.9 258.8,342.8 260.0,343.7 261.2,344.8 262.4,339.6 263.6,337.7 264.8,342.5 266.0,341.8 267.2,338.9 268.4,337.7 269.7,338.9 270.9,341.0 272.1,342.1 273.3,337.8 274.5,342.0 275.7,340.8 276.9,341.5 278.1,339.9 279.3,340.2 280.5,342.3 281.7,339.2 282.9,341.3 284.2,341.5 285.4,333.5 286.6,337.1 287.8,336.7 289.0,342.4 290.2,334.7 291.4,337.7 292.6,336.3 293.8,335.1 295.0,338.4 296.2,335.4 297.5,334.3 298.7,328.8 299.9,330.5 301.1,328.5 302.3,324.9 303.5,322.9 304.7,321.7 305.9,320.1 307.1,317.4 308.3,313.6 309.5,310.8 310.8,306.4 312.0,300.8 313.2,289.7 314.4,290.3 315.6,289.0 316.8,283.2 318.0,278.0 319.2,270.8 320.4,264.2 321.6,256.0 322.8,246.8 324.1,241.1 325.3,235.4 326.5,220.9 327.7,218.0 328.9,205.6 330.1,198.9 331.3,191.8 332.5,179.9 333.7,172.1 334.9,169.0 336.1,164.2 337.4,153.4 338.6,144.4 339.8,137.0 341.0,130.8 342.2,123.0 343.4,120.7 344.6,117.3 345.8,111.8 347.0,107.7 348.2,101.8 349.4,102.3 350.7,103.3 351.9,99.9 353.1,100.9 354.3,106.0 355.5,113.7 356.7,112.0 357.9,118.0 359.1,123.3 360.3,126.4 361.5,136.9 362.7,145.9 364.0,149.0 365.2,158.3 366.4,163.4 367.6,175.2 368.8,187.2 370.0,192.8 371.2,198.0 372.4,212.0 373.6,218.8 374.8,225.2 376.0,233.4 377.3,236.5 378.5,244.1 379.7,254.2 380.9,263.7 382.1,266.8 383.3,271.6 384.5,280.0 385.7,287.1 386.9,293.2 388.1,295.1 389.3,302.0 390.6,305.3 391.8,309.2 393.0,313.0 394.2,318.2 395.4,319.1 396.6,321.2 397.8,323.0 399.0,324.3 400.2,325.6 401.4,326.6 402.6,331.0 403.9,331.3 405.1,339.7 406.3,336.7 407.5,335.9 408.7,336.1 409.9,338.2 411.1,337.0 412.3,335.6 413.5,343.5 414.7,336.2 415.9,339.1 417.2,336.5 418.4,343.6 419.6,339.8 420.8,337.5 422.0,340.9 423.2,344.6 424.4,334.5 425.6,344.9 426.8,338.6 428.0,342.9 429.2,343.1 430.4,338.4 431.7,340.1 432.9,342.0 434.1,339.9 435.3,343.0 436.5,342.2 437.7,344.3 438.9,342.7 440.1,344.4 441.3,339.4 442.5,344.5 443.7,349.0 445.0,346.0 446.2,342.1 447.4,346.2 448.6,345.4 449.8,345.7 451.0,345.4 452.2,341.8 453.4,343.7 454.6,346.9 455.8,340.6 457.0,341.7 458.3,347.0 459.5,342.8 460.7,342.9 461.9,343.7 463.1,338.5 464.3,343.6 465.5,343.3 466.7,339.9 467.9,343.7 469.1,346.1 470.3,340.5 471.6,342.7 472.8,348.9 474.0,342.7 475.2,345.2 476.4,340.8 477.6,344.5 478.8,343.4 480.0,342.0 481.2,342.6 482.4,344.0 483.6,345.6 484.9,341.2 486.1,341.5 487.3,344.5 488.5,343.9 489.7,343.8 490.9,346.3 492.1,344.1 493.3,342.7 494.5,339.8 495.7,341.3 496.9,346.7 498.2,342.3 499.4,347.9 500.6,343.0 501.8,345.9 503.0,342.6 504.2,343.6 505.4,344.6 506.6,340.4 507.8,345.4 509.0,345.1 510.2,347.8 511.5,341.1 512.7,345.9 513.9,345.2 515.1,340.8 516.3,345.7 517.5,343.9 518.7,346.9 519.9,342.1 521.1,345.2 522.3,345.3 523.5,339.0 524.8,343.6 526.0,344.0 527.2,342.5 528.4,342.9 529.6,342.6 530.8,339.9 532.0,346.0 533.2,340.8 534.4,339.2 535.6,341.3 536.8,345.1 538.1,346.6 539.3,340.7 540.5,342.9 541.7,344.7 542.9,342.6 544.1,345.2 545.3,343.3 546.5,342.0 547.7,344.0 548.9,340.6 550.1,340.6 551.4,341.8 552.6,345.6 553.8,342.9 555.0,344.6 556.2,348.6 557.4,342.8 558.6,345.8 559.8,341.8 561.0,344.1 562.2,343.3 563.4,343.0 564.7,345.1 565.9,343.0 567.1,343.4 568.3,339.6 569.5,343.9 570.7,344.5 571.9,340.2 573.1,341.6 574.3,346.9 575.5,344.5 576.7,343.2 577.9,345.5 579.2,344.9 580.4,343.9 581.6,345.0 582.8,342.8 584.0,340.5 585.2,344.0 586.4,345.2 587.6,345.8 588.8,345.0 590.0,344.7 591.2,344.2 592.5,346.5 593.7,346.0 594.9,345.0 596.1,346.6 597.3,347.7 598.5,340.5 599.7,341.5 600.9,345.5 602.1,344.8 603.3,348.5 604.5,348.6 605.8,342.4 607.0,346.4 608.2,344.7 609.4,344.4 610.6,346.1 611.8,347.3 613.0,342.1 614.2,339.9 615.4,343.5 616.6,345.4 617.8,342.3 619.1,345.3 620.3,343.5 621.5,348.8 622.7,345.2 623.9,338.3 625.1,343.2 626.3,345.7 627.5,346.6 628.7,346.3 629.9,341.1 631.1,342.0 632.4,341.8 633.6,343.7 634.8,343.9 636.0,343.5 637.2,345.3 638.4,342.4 639.6,346.8 640.8,343.4 642.0,341.3 643.2,342.9 644.4,344.2 645.7,347.6 646.9,346.0 648.1,344.7 649.3,343.2 650.5,344.7 651.7,341.1" stroke="#ff00ff" /><path d="M48.4,345.3 49.6,343.0 50.8,339.3 52.0,346.1 53.2,347.3 54.4,343.8 55.7,342.3 56.9,345.7 58.1,342.3 59.3,345.5 60.5,342.4 61.7,346.0 62.9,339.5 64.1,345.2 65.3,349.1 66.5,349.6 67.7,346.2 69.0,345.6 70.2,343.0 71.4,344.1 72.6,343.4 73.8,347.3 75.0,343.2 76.2,346.2 77.4,347.0 78.6,340.6 79.8,344.5 81.0,344.7 82.3,348.3 83.5,347.4 84.7,344.9 85.9,344.9 87.1,338.2 88.3,338.9 89.5,346.5 90.7,343.8 91.9,349.8 93.1,343.3 94.3,340.4 95.6,343.5 96.8,343.2 98.0,345.6 99.2,345.2 100.4,342.6 101.6,349.9 102.8,344.2 104.0,341.3 105.2,344.9 106.4,339.8 107.6,341.4 108.9,345.2 110.1,341.6 111.3,342.7 112.5,344.9 113.7,341.0 114.9,345.8 116.1,345.2 117.3,340.3 118.5,340.9 119.7,340.0 120.9,343.7 122.2,343.6 123.4,342.0 124.6,344.3 125.8,345.7 127.0,341.8 128.2,342.5 129.4,342.6 130.6,342.9 131.8,339.4 133.0,344.0 134.2,347.9 135.4,343.3 136.7,344.4 137.9,343.8 139.1,341.8 140.3,342.8 141.5,341.7 142.7,346.2 143.9,344.5 145.1,343.7 146.3,339.6 147.5,344.4 148.7,346.4 150.0,345.5 151.2,345.2 152.4,344.7 153.6,340.9 154.8,343.1 156.0,339.9 157.2,347.5 158.4,345.0 159.6,339.0 160.8,341.5 162.0,342.9 163.3,345.5 164.5,344.1 165.7,341.0 166.9,341.6 168.1,340.3 169.3,346.2 170.5,341.3 171.7,342.9 172.9,346.3 174.1,345.3 175.3,341.2 176.6,345.5 177.8,345.5 179.0,343.0 180.2,346.4 181.4,343.2 182.6,346.9 183.8,346.6 185.0,344.4 186.2,346.4 187.4,340.1 188.6,344.3 189.9,346.0 191.1,345.2 192.3,340.5 193.5,341.4 194.7,343.0 195.9,341.2 197.1,341.7 198.3,346.2 199.5,347.4 200.7,343.0 201.9,342.2 203.2,345.5 204.4,344.2 205.6,342.8 206.8,340.2 208.0,342.0 209.2,343.4 210.4,345.2 211.6,347.0 212.8,345.6 214.0,343.9 215.2,342.2 216.5,344.5 217.7,341.9 218.9,339.6 220.1,342.1 221.3,343.4 222.5,342.4 223.7,342.8 224.9,342.2 226.1,341.7 227.3,345.7 228.5,345.9 229.8,340.4 231.0,341.7 232.2,342.5 233.4,344.6 234.6,344.7 235.8,340.7 237.0,347.2 238.2,343.9 239.4,344.5 240.6,344.4 241.8,341.0 243.1,343.6 244.3,342.9 245.5,339.8 246.7,342.1 247.9,345.0 249.1,344.1 250.3,347.4 251.5,341.3 252.7,343.5 253.9,342.0 255.1,344.4 256.4,342.2 257.6,343.6 258.8,347.5 260.0,338.5 261.2,341.2 262.4,343.4 263.6,341.3 264.8,345.2 266.0,336.8 267.2,345.6 268.4,342.4 269.7,346.6 270.9,341.2 272.1,341.7 273.3,344.1 274.5,344.3 275.7,341.4 276.9,343.3 278.1,340.9 279.3,339.0 280.5,337.6 281.7,339.1 282.9,342.1 284.2,339.1 285.4,335.8 286.6,336.5 287.8,337.1 289.0,340.8 290.2,336.2 291.4,338.7 292.6,333.4 293.8,333.9 295.0,336.8 296.2,332.7 297.5,330.4 298.7,331.1 299.9,328.4 301.1,324.9 302.3,322.5 303.5,324.8 304.7,321.8 305.9,317.1 307.1,312.8 308.3,311.8 309.5,309.3 310.8,304.2 312.0,304.5 313.2,299.0 314.4,290.7 315.6,290.5 316.8,279.1 318.0,277.2 319.2,270.5 320.4,259.3 321.6,258.8 322.8,247.4 324.1,244.8 325.3,231.5 326.5,225.8 327.7,216.7 328.9,207.1 330.1,200.4 331.3,193.6 332.5,182.8 333.7,177.3 334.9,170.0 336.1,163.5 337.4,149.0 338.6,145.7 339.8,143.0 341.0,138.3 342.2,130.7 343.4,119.7 344.6,118.1 345.8,116.7 347.0,112.2 348.2,110.7 349.4,106.1 350.7,108.9 351.9,107.4 353.1,105.3 354.3,112.6 355.5,116.1 356.7,118.4 357.9,119.7 359.1,126.7 360.3,131.5 361.5,135.2 362.7,148.6 364.0,153.6 365.2,159.2 366.4,170.0 367.6,178.8 368.8,184.5 370.0,189.3 371.2,199.9 372.4,203.9 373.6,216.8 374.8,225.3 376.0,238.4 377.3,236.0 378.5,248.9 379.7,255.6 380.9,264.6 382.1,269.6 383.3,273.3 384.5,280.5 385.7,287.0 386.9,291.8 388.1,298.3 389.3,302.2 390.6,307.3 391.8,309.9 393.0,313.1 394.2,316.7 395.4,318.6 396.6,315.7 397.8,327.0 399.0,329.0 400.2,325.4 401.4,330.6 402.6,331.6 403.9,331.2 405.1,330.0 406.3,335.3 407.5,336.5 408.7,339.8 409.9,334.8 411.1,334.9 412.3,340.0 413.5,336.5 414.7,337.7 415.9,340.2 417.2,337.5 418.4,341.9 419.6,345.3 420.8,339.6 422.0,348.2 423.2,342.4 424.4,344.0 425.6,342.4 426.8,340.1 428.0,339.8 429.2,339.2 430.4,339.2 431.7,340.6 432.9,341.1 434.1,341.7 435.3,343.8 436.5,340.3 437.7,346.7 438.9,341.6 440.1,345.5 441.3,343.3 442.5,342.1 443.7,343.2 445.0,341.0 446.2,346.3 447.4,343.2 448.6,342.7 449.8,343.3 451.0,343.0 452.2,340.2 453.4,343.1 454.6,341.6 455.8,346.5 457.0,343.2 458.3,341.9 459.5,344.3 460.7,343.9 461.9,342.5 463.1,338.6 464.3,346.2 465.5,348.1 466.7,340.4 467.9,344.6 469.1,345.3 470.3,345.6 471.6,345.4 472.8,340.6 474.0,342.1 475.2,345.4 476.4,344.3 477.6,343.2 478.8,341.9 480.0,343.2 481.2,339.9 482.4,343.4 483.6,340.7 484.9,346.7 486.1,338.6 487.3,345.7 488.5,339.9 489.7,343.8 490.9,338.7 492.1,344.6 493.3,343.1 494.5,344.8 495.7,343.4 496.9,341.2 498.2,340.4 499.4,343.2 500.6,343.4 501.8,341.6 503.0,343.0 504.2,344.5 505.4,341.7 506.6,342.7 507.8,345.2 509.0,343.1 510.2,347.9 511.5,342.4 512.7,344.4 513.9,343.7 515.1,339.8 516.3,346.2 517.5,339.4 518.7,345.2 519.9,346.5 521.1,344.2 522.3,342.5 523.5,340.7 524.8,338.7 526.0,345.2 527.2,349.8 528.4,343.4 529.6,339.8 530.8,342.6 532.0,346.6 533.2,342.7 534.4,341.4 535.6,340.3 536.8,346.7 538.1,344.8 539.3,344.0 540.5,345.3 541.7,342.6 542.9,342.9 544.1,340.1 545.3,344.4 546.5,340.5 547.7,343.6 548.9,349.6 550.1,345.6 551.4,345.6 552.6,347.2 553.8,339.0 555.0,343.7 556.2,342.6 557.4,342.9 558.6,347.0 559.8,340.6 561.0,344.2 562.2,343.0 563.4,343.5 564.7,347.0 565.9,344.2 567.1,339.8 568.3,342.7 569.5,346.4 570.7,344.0 571.9,343.7 573.1,344.0 574.3,347.4 575.5,340.9 576.7,339.7 577.9,344.9 579.2,345.2 580.4,341.0 581.6,343.6 582.8,345.7 584.0,342.2 585.2,343.4 586.4,342.1 587.6,337.4 588.8,341.3 590.0,341.6 591.2,346.9 592.5,344.7 593.7,347.1 594.9,344.7 596.1,342.5 597.3,344.4 598.5,345.8 599.7,344.0 600.9,347.7 602.1,343.7 603.3,341.7 604.5,345.6 605.8,344.1 607.0,342.6 608.2,346.3 609.4,343.8 610.6,343.3 611.8,345.3 613.0,345.0 614.2,344.9 615.4,340.8 616.6,347.1 617.8,341.1 619.1,343.9 620.3,339.4 621.5,343.8 622.7,346.8 623.9,343.3 625.1,344.8 626.3,339.3 627.5,341.7 628.7,343.5 629.9,347.9 631.1,344.2 632.4,342.4 633.6,340.9 634.8,340.4 636.0,342.6 637.2,342.6 638.4,343.6 639.6,343.1 640.8,345.9 642.0,342.2 643.2,341.7 644.4,345.0 645.7,342.4 646.9,343.9 648.1,341.7 649.3,344.0 650.5,343.5 651.7,341.4" stroke="#ffa500" /><path d="M48.4,344.0 49.6,346.5 50.8,340.8 52.0,346.7 53.2,343.6 54.4,342.6 55.7,343.9 56.9,343.9 58.1,340.2 59.3,344.8 60.5,345.0 61.7,345.1 62.9,341.2 64.1,344.6 65.3,341.9 66.5,343.0 67.7,341.2 69.0,343.8 70.2,344.5 71.4,343.6 72.6,345.3 73.8,343.0 75.0,344.5 76.2,347.5 77.4,340.2 78.6,342.2 79.8,344.9 81.0,343.8 82.3,340.7 83.5,344.2 84.7,342.2 85.9,343.4 87.1,343.4 88.3,344.8 89.5,345.1 90.7,342.8 91.9,346.5 93.1,337.5 94.3,342.4 95.6,342.9 96.8,341.5 98.0,343.4 99.2,344.6 100.4,342.6 101.6,342.0 102.8,342.4 104.0,344.0 105.2,343.4 106.4,340.4 107.6,340.8 108.9,344.9 110.1,344.4 111.3,346.9 112.5,343.9 113.7,345.2 114.9,342.3 116.1,342.3 117.3,341.9 118.5,342.9 119.7,349.4 120.9,342.6 122.2,340.7 123.4,344.2 124.6,338.7 125.8,342.0 127.0,346.7 128.2,344.5 129.4,341.6 130.6,348.6 131.8,345.4 133.0,344.6 134.2,340.6 135.4,344.4 136.7,340.8 137.9,344.3 139.1,342.8 140.3,344.0 141.5,343.1 142.7,340.9 143.9,341.6 145.1,344.8 146.3,338.9 147.5,341.6 148.7,340.7 150.0,342.3 151.2,345.4 152.4,340.5 153.6,346.4 154.8,347.0 156.0,342.2 157.2,344.4 158.4,340.4 159.6,341.8 160.8,346.2 162.0,344.1 163.3,341.2 164.5,348.9 165.7,344.9 166.9,349.1 168.1,344.6 169.3,340.3 170.5,343.7 171.7,345.4 172.9,345.3 174.1,343.7 175.3,344.1 176.6,344.1 177.8,342.1 179.0,342.6 180.2,347.0 181.4,345.6 182.6,346.5 183.8,341.6 185.0,342.6 186.2,341.8 187.4,342.2 188.6,339.7 189.9,344.1 191.1,343.9 192.3,344.6 193.5,340.0 194.7,343.8 195.9,342.9 197.1,347.3 198.3,344.8 199.5,347.8 200.7,342.9 201.9,344.5 203.2,346.5 204.4,346.5 205.6,345.2 206.8,342.7 208.0,343.3 209.2,346.1 210.4,342.3 211.6,343.6 212.8,345.5 214.0,349.4 215.2,349.2 216.5,341.8 217.7,342.9 218.9,346.0 220.1,340.9 221.3,346.3 222.5,344.1 223.7,343.5 224.9,343.1 226.1,345.1 227.3,339.7 228.5,341.1 229.8,339.8 231.0,338.5 232.2,344.7 233.4,349.5 234.6,344.7 235.8,342.7 237.0,342.3 238.2,345.1 239.4,344.0 240.6,340.5 241.8,343.4 243.1,343.3 244.3,344.0 245.5,343.7 246.7,344.9 247.9,344.3 249.1,338.5 250.3,342.0 251.5,347.0 252.7,341.8 253.9,343.3 255.1,345.0 256.4,342.9 257.6,341.6 258.8,343.5 260.0,344.5 261.2,340.3 262.4,337.7 263.6,342.4 264.8,340.7 266.0,343.3 267.2,344.5 268.4,339.5 269.7,343.6 270.9,343.2 272.1,338.6 273.3,342.6 274.5,343.9 275.7,343.4 276.9,340.0 278.1,340.0 279.3,340.3 280.5,340.9 281.7,339.8 282.9,343.7 284.2,338.3 285.4,338.4 286.6,337.0 287.8,340.2 289.0,330.8 290.2,337.3 291.4,337.8 292.6,334.1 293.8,336.0 295.0,335.3 296.2,336.4 297.5,330.8 298.7,327.2 299.9,328.2 301.1,329.4 302.3,329.4 303.5,325.2 304.7,322.5 305.9,320.2 307.1,318.4 308.3,312.3 309.5,311.5 310.8,307.9 312.0,299.8 313.2,300.2 314.4,291.2 315.6,286.4 316.8,281.5 318.0,278.6 319.2,270.4 320.4,262.1 321.6,258.3 322.8,250.2 324.1,241.7 325.3,235.6 326.5,226.6 327.7,223.8 328.9,210.4 330.1,202.0 331.3,194.2 332.5,185.6 333.7,181.9 334.9,172.6 336.1,162.4 337.4,160.6 338.6,148.5 339.8,139.5 341.0,133.8 342.2,133.1 343.4,129.0 344.6,124.9 345.8,120.1 347.0,117.1 348.2,113.1 349.4,115.8 350.7,109.2 351.9,111.2 353.1,113.1 354.3,114.7 355.5,115.0 356.7,122.7 357.9,124.5 359.1,130.5 360.3,141.0 361.5,139.9 362.7,149.2 364.0,158.6 365.2,169.3 366.4,168.2 367.6,181.5 368.8,187.2 370.0,197.9 371.2,203.9 372.4,212.2 373.6,223.0 374.8,232.0 376.0,237.3 377.3,241.3 378.5,247.5 379.7,260.5 380.9,267.5 382.1,273.6 383.3,276.9 384.5,281.7 385.7,287.3 386.9,293.5 388.1,296.0 389.3,303.3 390.6,309.8 391.8,310.0 393.0,311.8 394.2,315.2 395.4,321.4 396.6,316.6 397.8,322.3 399.0,325.4 400.2,327.8 401.4,331.1 402.6,329.4 403.9,330.4 405.1,334.7 406.3,331.0 407.5,333.0 408.7,329.9 409.9,338.3 411.1,334.0 412.3,337.6 413.5,336.8 414.7,335.9 415.9,336.2 417.2,339.5 418.4,338.5 419.6,336.9 420.8,338.8 422.0,337.4 423.2,343.3 424.4,343.5 425.6,342.3 426.8,337.5 428.0,341.8 429.2,338.2 430.4,344.6 431.7,341.2 432.9,342.5 434.1,343.4 435.3,343.7 436.5,347.4 437.7,344.0 438.9,341.8 440.1,340.7 441.3,337.6 442.5,343.0 443.7,344.3 445.0,346.5 446.2,344.4 447.4,341.2 448.6,345.0 449.8,345.8 451.0,344.4 452.2,348.6 453.4,340.4 454.6,341.7 455.8,343.8 457.0,339.8 458.3,341.8 459.5,347.6 460.7,343.7 461.9,344.8 463.1,342.0 464.3,343.0 465.5,341.9 466.7,344.1 467.9,344.5 469.1,343.6 470.3,343.7 471.6,343.4 472.8,339.4 474.0,340.6 475.2,341.9 476.4,342.8 477.6,343.7 478.8,343.9 480.0,341.4 481.2,345.7 482.4,341.8 483.6,342.2 484.9,345.0 486.1,347.0 487.3,342.0 488.5,341.5 489.7,346.4 490.9,341.9 492.1,341.6 493.3,342.7 494.5,347.1 495.7,340.3 496.9,340.5 498.2,343.9 499.4,344.7 500.6,344.6 501.8,341.7 503.0,345.2 504.2,343.9 505.4,344.8 506.6,344.1 507.8,341.9 509.0,343.2 510.2,344.4 511.5,342.1 512.7,345.7 513.9,342.4 515.1,343.7 516.3,341.9 517.5,345.7 518.7,344.4 519.9,343.5 521.1,343.4 522.3,347.7 523.5,341.5 524.8,344.0 526.0,342.4 527.2,344.1 528.4,340.3 529.6,343.3 530.8,343.5 532.0,344.7 533.2,342.9 534.4,346.2 535.6,344.9 536.8,349.3 538.1,340.2 539.3,344.2 540.5,344.7 541.7,346.4 542.9,342.3 544.1,346.4 545.3,346.9 546.5,342.1 547.7,339.8 548.9,343.9 550.1,343.5 551.4,344.3 552.6,345.0 553.8,342.0 555.0,344.6 556.2,344.3 557.4,343.2 558.6,344.1 559.8,342.4 561.0,344.0 562.2,341.2 563.4,343.0 564.7,345.0 565.9,343.3 567.1,346.1 568.3,345.6 569.5,344.2 570.7,341.7 571.9,346.5 573.1,344.2 574.3,345.9 575.5,343.3 576.7,343.2 577.9,344.9 579.2,346.4 580.4,345.0 581.6,344.2 582.8,342.0 584.0,345.4 585.2,342.3 586.4,345.4 587.6,345.5 588.8,341.4 590.0,341.4 591.2,344.8 592.5,341.4 593.7,344.3 594.9,337.7 596.1,345.7 597.3,340.2 598.5,341.9 599.7,344.3 600.9,345.7 602.1,345.0 603.3,339.4 604.5,348.0 605.8,348.9 607.0,344.2 608.2,348.8 609.4,347.1 610.6,342.0 611.8,346.4 613.0,342.5 614.2,344.2 615.4,346.0 616.6,345.5 617.8,341.9 619.1,346.0 620.3,342.1 621.5,343.1 622.7,346.1 623.9,344.2 625.1,341.0 626.3,346.6 627.5,348.3 628.7,343.2 629.9,341.7 631.1,345.7 632.4,342.0 633.6,339.2 634.8,343.8 636.0,344.5 637.2,341.3 638.4,344.4 639.6,343.9 640.8,343.2 642.0,345.9 643.2,348.8 644.4,341.5 645.7,343.8 646.9,343.6 648.1,341.7 649.3,342.5 650.5,344.1 651.7,348.9" stroke="#00ffff" /></g>
<g stroke="#6a6a6a" stroke-width="1.5" fill="none">
<path d="M48.4,32.32 V365.9 H651.7"/>
<line x1="48.40" y1="366.00" x2="48.40" y2="362.50"/><line x1="148.95" y1="366.00" x2="148.95" y2="362.50"/><line x1="249.50" y1="366.00" x2="249.50" y2="362.50"/><line x1="350.05" y1="366.00" x2="350.05" y2="362.50"/><line x1="450.60" y1="366.00" x2="450.60" y2="362.50"/><line x1="551.15" y1="366.00" x2="551.15" y2="362.50"/><line x1="651.70" y1="366.00" x2="651.70" y2="362.50"/><line x1="48.40" y1="343.75" x2="51.90" y2="343.75"/><line x1="48.40" y1="299.26" x2="51.90" y2="299.26"/><line x1="48.40" y1="254.77" x2="51.90" y2="254.77"/><line x1="48.40" y1="210.28" x2="51.90" y2="210.28"/><line x1="48.40" y1="165.79" x2="51.90" y2="165.79"/><line x1="48.40" y1="121.30" x2="51.90" y2="121.30"/><line x1="48.40" y1="76.81" x2="51.90" y2="76.81"/><line x1="48.40" y1="32.32" x2="51.90" y2="32.32"/>
</g>
<rect x="541.6" y="37.5" width="105.6" height="99.8" rx="2.5" fill="#fff" fill-opacity="0.8" stroke="#cccccc" stroke-opacity="0.85" stroke-width="1"/><line x1="544.2" y1="44.75" x2="564.0" y2="44.75" stroke="#000000" stroke-width="1.5"/><line x1="544.2" y1="58.63" x2="564.0" y2="58.63" stroke="#ff0000" stroke-width="1.5"/><line x1="544.2" y1="72.51" x2="564.0" y2="72.51" stroke="#0000ff" stroke-width="1.5"/><line x1="544.2" y1="86.39" x2="564.0" y2="86.39" stroke="#008000" stroke-width="1.5"/><line x1="544.2" y1="100.27" x2="564.0" y2="100.27" stroke="#ff00ff" stroke-width="1.5"/><line x1="544.2" y1="114.15" x2="564.0" y2="114.15" stroke="#ffa500" stroke-width="1.5"/><line x1="544.2" y1="128.03" x2="564.0" y2="128.03" stroke="#00ffff" stroke-width="1.5"/>
</g>
<g id="texts" opacity="0.995"><text id="yt0" x="37.98" y="348.10" font-size="11.4" fill="#262626" stroke="#262626" stroke-width="0.15" textLength="6.78" lengthAdjust="spacingAndGlyphs">0</text><text id="yt10" x="31.11" y="303.61" font-size="11.4" fill="#262626" stroke="#262626" stroke-width="0.15" textLength="13.54" lengthAdjust="spacingAndGlyphs">10</text><text id="yt20" x="30.86" y="259.12" font-size="11.4" fill="#262626" stroke="#262626" stroke-width="0.15" textLength="13.80" lengthAdjust="spacingAndGlyphs">20</text><text id="yt30" x="31.64" y="214.63" font-size="11.4" fill="#262626" stroke="#262626" stroke-width="0.15" textLength="12.99" lengthAdjust="spacingAndGlyphs">30</text><text id="yt40" x="31.39" y="170.14" font-size="11.4" fill="#262626" stroke="#262626" stroke-width="0.15" textLength="13.25" lengthAdjust="spacingAndGlyphs">40</text><text id="yt50" x="31.12" y="125.65" font-size="11.4" fill="#262626" stroke="#262626" stroke-width="0.15" textLength="13.52" lengthAdjust="spacingAndGlyphs">50</text><text id="yt60" x="30.86" y="81.16" font-size="11.4" fill="#262626" stroke="#262626" stroke-width="0.15" textLength="13.80" lengthAdjust="spacingAndGlyphs">60</text><text id="yt70" x="31.30" y="36.67" font-size="11.4" fill="#262626" stroke="#262626" stroke-width="0.15" textLength="13.05" lengthAdjust="spacingAndGlyphs">70</text><text id="xtm150" x="33.68" y="377.60" font-size="11.4" fill="#262626" stroke="#262626" stroke-width="0.15" textLength="29.42" lengthAdjust="spacingAndGlyphs">−150</text><text id="xtm100" x="134.44" y="377.60" font-size="11.4" fill="#262626" stroke="#262626" stroke-width="0.15" textLength="29.21" lengthAdjust="spacingAndGlyphs">−100</text><text id="xtm50" x="238.67" y="377.60" font-size="11.4" fill="#262626" stroke="#262626" stroke-width="0.15" textLength="22.42" lengthAdjust="spacingAndGlyphs">−50</text><text id="xt0" x="347.01" y="377.60" font-size="11.4" fill="#262626" stroke="#262626" stroke-width="0.15" textLength="6.10" lengthAdjust="spacingAndGlyphs">0</text><text id="xt50" x="443.70" y="377.60" font-size="11.4" fill="#262626" stroke="#262626" stroke-width="0.15" textLength="13.59" lengthAdjust="spacingAndGlyphs">50</text><text id="xt100" x="540.70" y="377.60" font-size="11.4" fill="#262626" stroke="#262626" stroke-width="0.15" textLength="20.35" lengthAdjust="spacingAndGlyphs">100</text><text id="xt150" x="641.69" y="377.60" font-size="11.4" fill="#262626" stroke="#262626" stroke-width="0.15" textLength="19.91" lengthAdjust="spacingAndGlyphs">150</text><text id="xl" x="299.47" y="392.30" font-size="11.4" fill="#262626" stroke="#262626" stroke-width="0.15" textLength="101.32" lengthAdjust="spacingAndGlyphs">Crank Angle (°CA)</text><text id="yl" transform="rotate(-90)" x="-262.03" y="25.20" font-size="11.4" fill="#262626" stroke="#262626" stroke-width="0.15" textLength="126.52" lengthAdjust="spacingAndGlyphs">Cylinder Pressure (bar)</text><text id="lg0" x="570.97" y="48.00" font-size="10.0" fill="#333" stroke="#333" stroke-width="0.2" textLength="28.17" lengthAdjust="spacingAndGlyphs">Diesel</text><text id="lg1" x="571.24" y="61.90" font-size="10.0" fill="#333" stroke="#333" stroke-width="0.2" textLength="71.62" lengthAdjust="spacingAndGlyphs">SOMED40/Al<tspan font-size="6.2">2</tspan>O<tspan font-size="6.2">3</tspan></text><text id="lg2" x="571.26" y="75.80" font-size="10.0" fill="#333" stroke="#333" stroke-width="0.2" textLength="44.79" lengthAdjust="spacingAndGlyphs">SOMED40</text><text id="lg3" x="571.26" y="89.70" font-size="10.0" fill="#333" stroke="#333" stroke-width="0.2" textLength="44.79" lengthAdjust="spacingAndGlyphs">SOMED20</text><text id="lg4" x="571.26" y="103.60" font-size="10.0" fill="#333" stroke="#333" stroke-width="0.2" textLength="44.79" lengthAdjust="spacingAndGlyphs">SOMED60</text><text id="lg5" x="571.26" y="117.50" font-size="10.0" fill="#333" stroke="#333" stroke-width="0.2" textLength="44.79" lengthAdjust="spacingAndGlyphs">SOMED80</text><text id="lg6" x="571.26" y="131.40" font-size="10.0" fill="#333" stroke="#333" stroke-width="0.2" textLength="50.98" lengthAdjust="spacingAndGlyphs">SOMED100</text></g>
</svg>
</body></html>
